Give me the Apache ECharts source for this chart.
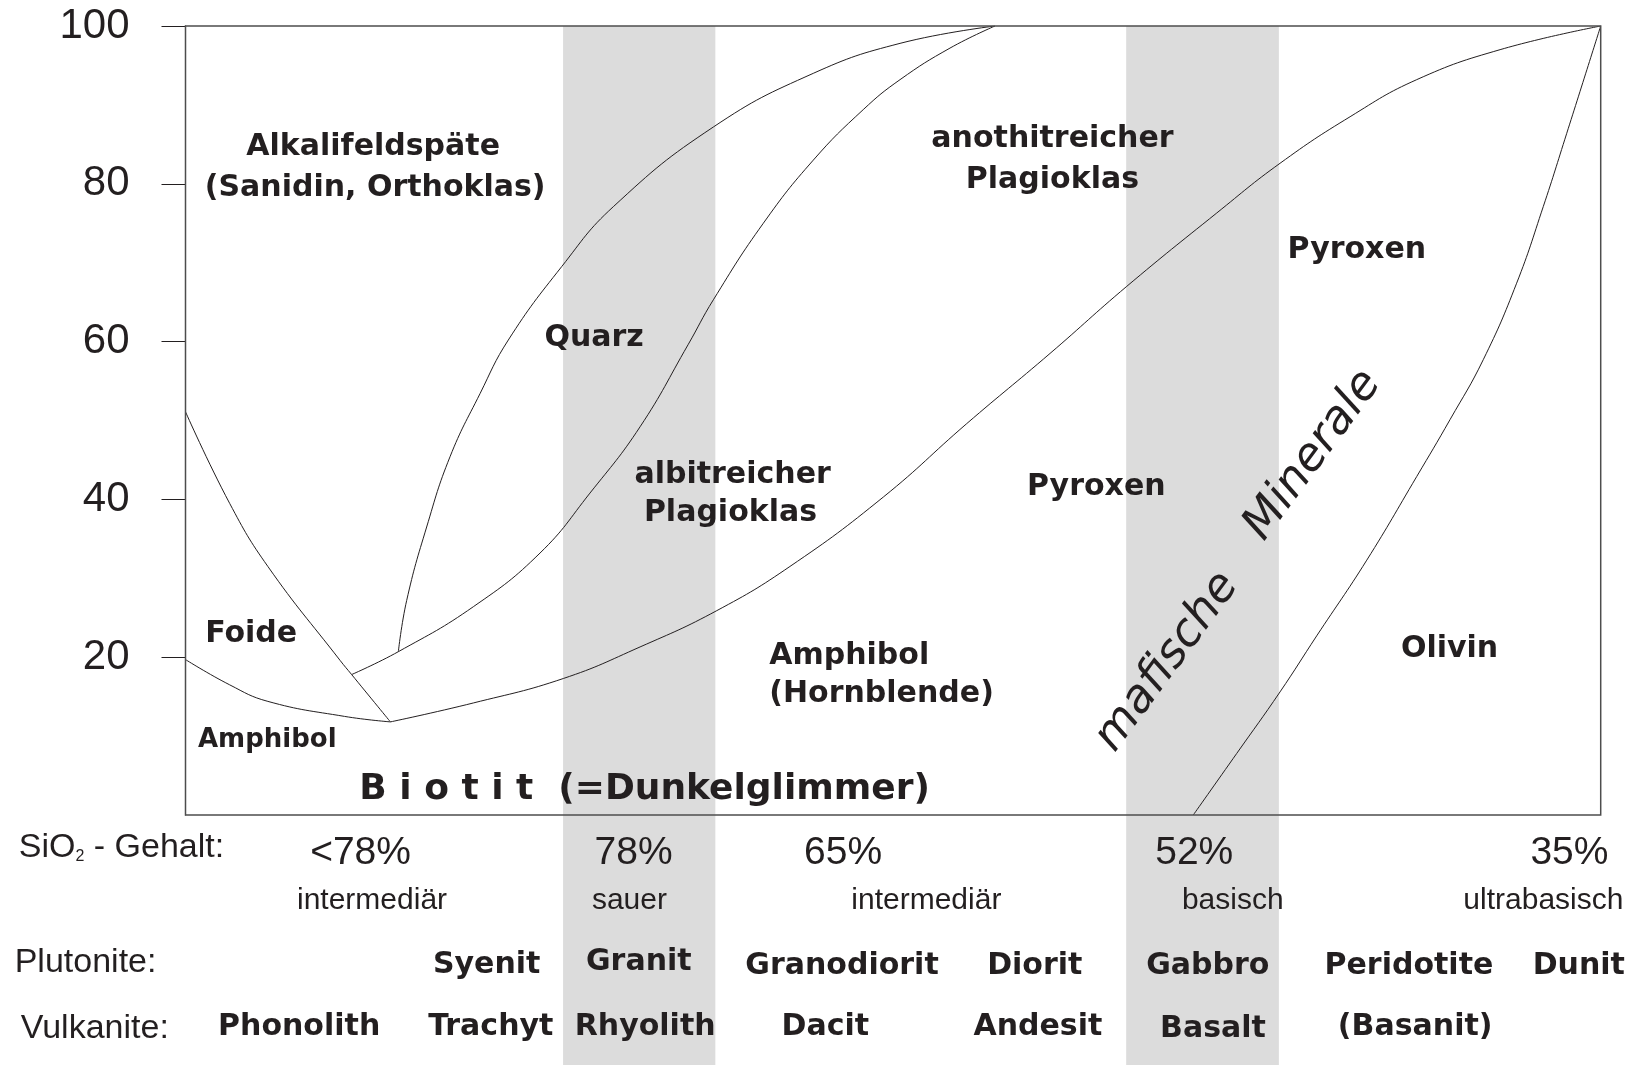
<!DOCTYPE html>
<html>
<head>
<meta charset="utf-8">
<script src="https://cdn.jsdelivr.net/npm/echarts@6/dist/echarts.min.js"></script>
<style>
    html, body { margin: 0; padding: 0; background: #fff; }
    #main { width: 1634px; height: 1065px; }
</style>
</head>
<body>
<div id="main"></div>
<script>
// x: Lage im Diagramm (0 = links, 100 = rechts), y: Volumenanteil in %
var foideOben    = [[0, 51.1], [3.12, 39.5], [5.82, 31.5], [10.92, 19.6], [11.74, 17.8], [14.48, 11.8]];
var foideUnten   = [[0, 19.7], [3.12, 16.5], [5.82, 14.4], [11.23, 12.5], [14.48, 11.8]];
var amphibolLinie = [[14.48, 11.8], [20.34, 14.2], [26.70, 17.3], [32.12, 21.3], [37.54, 25.9], [42.71, 31.5],
    [49.31, 40.3], [55.20, 49.6], [61.09, 58.5], [66.51, 67.0], [72.87, 76.3], [77.34, 82.6],
    [82.29, 88.5], [87.00, 93.2], [92.89, 97.0], [100, 100]];
var albitLinie   = [[11.74, 17.8], [15.04, 20.7], [20.34, 26.4], [25.05, 33.2], [28.58, 40.8], [32.12, 49.2],
    [35.51, 59.6], [37.30, 65.3], [40.83, 75.0], [44.36, 83.0], [47.89, 89.4], [50.49, 93.2], [54.02, 97.2], [57.2, 100]];
var quarzLinie   = [[15.04, 20.7], [15.63, 27.2], [17.04, 36.5], [18.69, 45.4], [20.81, 53.4], [22.81, 60.2],
    [26.58, 69.5], [30.23, 77.1], [37.30, 87.2], [44.36, 94.0], [50.49, 97.8], [57.2, 100]];
var olivinLinie  = [[71.21, 0], [74.28, 7.8], [77.34, 15.6], [79.93, 22.7], [83.47, 32.3], [87.00, 42.9],
    [89.35, 50.1], [91.70, 57.7], [94.06, 67.4], [95.94, 77.1], [97.60, 86.4], [100, 100]];

// graue Streifen (sauer / basisch)
var streifen = [[26.68, 37.44], [66.47, 77.26]];
var yTicks = [20, 40, 60, 80, 100];

// Beschriftungen im Diagramm: [x, y, Text]
var mineralNamen = [
    [13.26, 84.7, 'Alkalifeldspäte'], [13.40, 79.5, '(Sanidin, Orthoklas)'],
    [28.87, 60.4, 'Quarz'],
    [61.26, 85.6, 'anothitreicher'], [61.26, 80.4, 'Plagioklas'],
    [82.77, 71.6, 'Pyroxen'],
    [38.66, 43.1, 'albitreicher'], [38.51, 38.2, 'Plagioklas'],
    [64.36, 41.6, 'Pyroxen'],
    [4.64, 22.9, 'Foide'],
    [89.32, 21.0, 'Olivin']
];
var mineralLinks = [[41.25, 20.1, 'Amphibol'], [41.25, 15.3, '(Hornblende)']];
var amphibolKlein = [[0.88, 9.5, 'Amphibol']];
var biotit = [[12.28, 3.2, 'B i o t i t  (=Dunkelglimmer)']];
var mafisch = [[69.37, 19.4, 'mafische'], [79.67, 45.6, 'Minerale']];

// Zeilen unter dem Diagramm (y: Abstand unter der Achse)
var zeilenTitel = [[-11.78, 32.5, 'SiO2 - Gehalt:'], [-12.07, 148, 'Plutonite:'], [-11.64, 214, 'Vulkanite:']];
var sio2Werte = ['<78%', '78%', '65%', '52%', '35%'];
var sio2X = [12.37, 31.66, 46.47, 71.28, 97.79];
var gesteinsArt = ['intermediär', 'sauer', 'intermediär', 'basisch', 'ultrabasisch'];
var gesteinsArtX = [13.18, 31.37, 52.35, 74.00, 95.95];
var plutonite = ['Syenit', 'Granit', 'Granodiorit', 'Diorit', 'Gabbro', 'Peridotite', 'Dunit'];
var plutoniteX = [21.28, 32.03, 46.39, 60.01, 72.24, 86.45, 98.45];
var plutoniteY = [150, 147, 151, 151, 151, 151, 151];
var vulkanite = ['Phonolith', 'Trachyt', 'Rhyolith', 'Dacit', 'Andesit', 'Basalt', '(Basanit)'];
var vulkaniteX = [8.03, 21.57, 32.48, 45.21, 60.23, 72.60, 86.89];
var vulkaniteY = [212.5, 212.5, 212.5, 212.5, 212.5, 214.5, 212.5];

var textFarbe = '#231f20';
var fettSchrift = 'DejaVu Sans';
var normalSchrift = 'Liberation Sans';

function zipLabels(texts, xs, ys) {
    var arr = [];
    for (var i = 0; i < texts.length; i++) {
        arr.push([xs[i], Array.isArray(ys) ? ys[i] : ys, texts[i]]);
    }
    return arr;
}

// Textreihe als unsichtbare Punkte mit Beschriftung
function textSeries(items, grid, style) {
    var label = {
        show: true,
        position: 'inside',
        formatter: '{b}',
        color: textFarbe,
        opacity: 1
    };
    for (var k in style) {
        label[k] = style[k];
    }
    return {
        type: 'scatter',
        xAxisIndex: grid,
        yAxisIndex: grid,
        symbolSize: 0,
        silent: true,
        clip: false,
        z: 5,
        itemStyle: { opacity: 1 },
        data: items.map(function (d) {
            return { name: d[2], value: [d[0], d[1]] };
        }),
        label: label
    };
}

function curveSeries(data) {
    return {
        type: 'line',
        xAxisIndex: 0,
        yAxisIndex: 0,
        data: data,
        smooth: 0.45,
        showSymbol: false,
        silent: true,
        z: 3,
        lineStyle: { color: textFarbe, width: 1 }
    };
}

function bandSeries(grid) {
    return {
        type: 'line',
        xAxisIndex: grid,
        yAxisIndex: grid,
        data: [],
        z: 1,
        markArea: {
            silent: true,
            itemStyle: { color: '#dcdcdc' },
            data: streifen.map(function (b) {
                return [{ xAxis: b[0] }, { xAxis: b[1] }];
            })
        }
    };
}

var fett = { fontFamily: fettSchrift, fontWeight: 'bold', fontSize: 30 };

var series = [
    bandSeries(0),
    bandSeries(1),
    curveSeries(foideOben),
    curveSeries(foideUnten),
    curveSeries(amphibolLinie),
    curveSeries(albitLinie),
    curveSeries(quarzLinie),
    curveSeries(olivinLinie),
    textSeries(mineralNamen, 0, fett),
    textSeries(mineralLinks, 0, { fontFamily: fettSchrift, fontWeight: 'bold', fontSize: 30, align: 'left' }),
    textSeries(amphibolKlein, 0, { fontFamily: fettSchrift, fontWeight: 'bold', fontSize: 26, align: 'left' }),
    textSeries(biotit, 0, { fontFamily: fettSchrift, fontWeight: 'bold', fontSize: 36, align: 'left' }),
    textSeries(mafisch, 0, { fontFamily: fettSchrift, fontStyle: 'italic', fontWeight: 'normal', fontSize: 46, rotate: 53.5 }),
    textSeries(zeilenTitel, 1, {
        align: 'left',
        formatter: function (p) {
            if (p.name.indexOf('SiO2') === 0) {
                return '{a|SiO}{s|2}{a| - Gehalt:}';
            }
            return '{a|' + p.name + '}';
        },
        rich: {
            a: { fontFamily: normalSchrift, fontSize: 34, color: textFarbe },
            s: { fontFamily: normalSchrift, fontSize: 16, color: textFarbe, verticalAlign: 'bottom', padding: [14, 0, 0, 0] }
        }
    }),
    textSeries(zipLabels(sio2Werte, sio2X, 38), 1, { fontFamily: normalSchrift, fontSize: 39 }),
    textSeries(zipLabels(gesteinsArt, gesteinsArtX, 86), 1, { fontFamily: normalSchrift, fontSize: 30 }),
    textSeries(zipLabels(plutonite, plutoniteX, plutoniteY), 1, fett),
    textSeries(zipLabels(vulkanite, vulkaniteX, vulkaniteY), 1, fett)
];

var chart = echarts.init(document.getElementById('main'));
chart.setOption({
    animation: false,
    backgroundColor: '#ffffff',
    grid: [
        { left: 185.5, right: 33.3, top: 26, height: 789, show: true, z: 10,
          backgroundColor: 'transparent', borderColor: '#4d4d4d', borderWidth: 1.5 },
        { left: 185.5, right: 33.3, top: 815, height: 250 }
    ],
    xAxis: [
        { gridIndex: 0, type: 'value', min: 0, max: 100, show: false },
        { gridIndex: 1, type: 'value', min: 0, max: 100, show: false }
    ],
    yAxis: [
        {
            gridIndex: 0, type: 'value', min: 0, max: 100, interval: 20,
            axisLine: { show: true, lineStyle: { color: textFarbe, width: 1 } },
            axisTick: { show: true, length: 24, inside: false, customValues: yTicks, lineStyle: { color: textFarbe } },
            axisLabel: { customValues: yTicks, fontSize: 42, margin: 56, color: textFarbe, fontFamily: normalSchrift },
            splitLine: { show: false }
        },
        { gridIndex: 1, type: 'value', min: 0, max: 250, inverse: true, show: false }
    ],
    series: series
});
</script>
</body>
</html>
